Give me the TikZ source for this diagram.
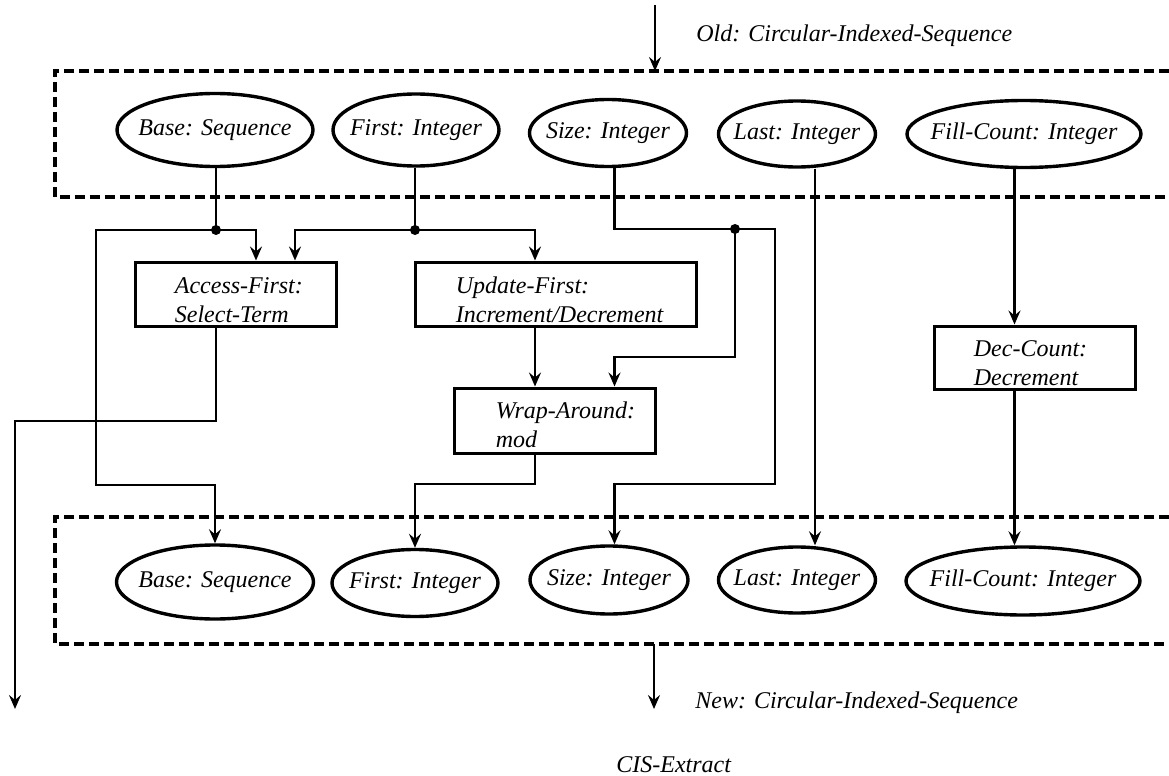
\documentclass[tikz,border=0pt]{standalone}
\usepackage{fontspec}
\setmainfont{Liberation Serif}
\usetikzlibrary{arrows.meta,shapes.geometric,calc}
\tikzset{
  wire/.style={line width=1.35pt},
  flow/.style={line width=1.35pt, -{Stealth[length=7pt,width=6pt,inset=2.5pt]}},
  val-ellipse/.style={
    ellipse,
    draw=black,
    line width=1.7pt,
    inner xsep=-10pt,
    inner ysep=0pt,
    font=\fontsize{12}{14}\selectfont\itshape
  },
  op-box/.style={
    rectangle,
    draw=black,
    line width=1.5pt,
    minimum width=100.5pt,
    minimum height=32pt,
    inner sep=0pt
  },
  op-text/.style={anchor=base west, inner sep=0pt, font=\fontsize{12}{14.5}\selectfont\itshape},
  io-label/.style={anchor=base west, inner sep=0pt, font=\fontsize{12}{14}\selectfont\itshape},
  junction/.style={circle, fill=black, minimum size=5pt, inner sep=0pt},
  frame-dash/.style={line width=1.6pt, dash pattern=on 5pt off 2.5pt}
}
\newcommand{\optext}[2]{\begin{tabular}[t]{@{}l@{}}#1\\#2\end{tabular}}

\begin{document}
\begin{tikzpicture}[x=0.5pt, y=-0.5pt]
  \useasboundingbox (0,0) rectangle (1169,776);
  % dashed frames (open to the right)
  \draw[frame-dash] (1169,71) -- (55,71) -- (55,197) -- (1169,197);
  \draw[frame-dash] (1169,517) -- (55,517) -- (55,644) -- (1169,644);

  % old record
  \node[val-ellipse, minimum width=98pt, minimum height=36.5pt] (baseOld) at (215,130) {Base: Sequence};
  \node[val-ellipse, minimum width=83pt, minimum height=36pt] (firstOld) at (416,130) {First: Integer};
  \node[val-ellipse, minimum width=78.5pt, minimum height=33.5pt] (sizeOld) at (608,133) {Size: Integer};
  \node[val-ellipse, minimum width=78.5pt, minimum height=33pt] (lastOld) at (797,134) {Last: Integer};
  \node[val-ellipse, minimum width=117pt, minimum height=33.5pt] (fillOld) at (1024,134) {Fill-Count: Integer};

  % new record
  \node[val-ellipse, minimum width=98.5pt, minimum height=37pt] (baseNew) at (215,582) {Base: Sequence};
  \node[val-ellipse, minimum width=83pt, minimum height=33.5pt] (firstNew) at (415,583) {First: Integer};
  \node[val-ellipse, minimum width=79pt, minimum height=34pt] (sizeNew) at (609,580) {Size: Integer};
  \node[val-ellipse, minimum width=78.5pt, minimum height=33pt] (lastNew) at (797,580) {Last: Integer};
  \node[val-ellipse, minimum width=117pt, minimum height=34pt] (fillNew) at (1023,581) {Fill-Count: Integer};

  % operations
  \node[op-box] (access) at (235.5,294) {};
  \node[op-box, minimum width=140.5pt] (update) at (555.5,294) {};
  \node[op-box, minimum height=32.5pt] (wrap) at (554.5,420.5) {};
  \node[op-box, minimum height=31.5pt] (dec) at (1034.5,357.5) {};
  \node[op-text] (accessTxt) at ($(access.north west)+(41,32.5)$) {\optext{Access-First:}{Select-Term}};
  \node[op-text] (updateTxt) at ($(update.north west)+(42,32.5)$) {\optext{Update-First:}{Increment/Decrement}};
  \node[op-text] (wrapTxt) at ($(wrap.north west)+(43,32)$) {\optext{Wrap-Around:}{mod}};
  \node[op-text] (decTxt) at ($(dec.north west)+(41,32)$) {\optext{Dec-Count:}{Decrement}};

  % junctions, columns and bends
  \node[junction] (jBase) at (216,230) {};
  \node[junction] (jFirst) at (415,230) {};
  \node[junction] (jSize) at (735,229) {};
  \coordinate (colSize) at (614.5,0);
  \coordinate (colUpd) at (535,0);
  \coordinate (colLast) at (815,0);
  \coordinate (colFill) at (1014.5,0);
  \coordinate (bendBase) at (96,485);
  \coordinate (bendSizeR) at (775,484);
  \coordinate (bendWrap) at (735,357);
  \coordinate (bendFirst) at (415,484);
  \coordinate (bendOut) at (15,421);
  \coordinate (extOut) at (15,709);
  \coordinate (oldIn) at (655,5);
  \coordinate (oldTip) at (655,71);
  \coordinate (newOut) at (654,644);
  \coordinate (newTip) at (654,709);

  % base and first
  \draw[wire] (baseOld.south -| jBase) -- (jBase.center);
  \draw[flow] (jBase.center) -| ([xshift=10.25pt]access.north);
  \draw[flow] (jBase.center) -| (bendBase) -| (baseNew.north);
  \draw[wire] (firstOld.south -| jFirst) -- (jFirst.center);
  \draw[flow] (jFirst.center) -| ([xshift=29.75pt]access.north);
  \draw[flow] (jFirst.center) -| (update.north -| colUpd);
  \draw[flow] (update.south -| colUpd) -- (wrap.north -| colUpd);
  \draw[flow] (wrap.south -| colUpd) |- (bendFirst) -- (firstNew.north);
  \draw[flow] (access.south -| jBase) |- (bendOut) -- (extOut);

  % size
  \draw[wire] (sizeOld.south -| colSize) |- (jSize.center);
  \draw[flow] (jSize.center) -| (bendSizeR) -| (sizeNew.north -| colSize);
  \draw[flow] (jSize.center) -- (bendWrap) -| (wrap.north -| colSize);

  % last and fill-count
  \draw[flow] (lastOld.south -| colLast) -- (lastNew.north -| colLast);
  \draw[flow] (fillOld.south -| colFill) -- (dec.north -| colFill);
  \draw[flow] (dec.south -| colFill) -- (fillNew.north -| colFill);

  % in and out
  \draw[flow] (oldIn) -- (oldTip);
  \draw[flow] (newOut) -- (newTip);
  \node[io-label] (oldLbl) at (696,41) {Old: Circular-Indexed-Sequence};
  \node[io-label] (newLbl) at (695,708) {New: Circular-Indexed-Sequence};
  \node[io-label] (cisLbl) at (616,772) {CIS-Extract};
\end{tikzpicture}
\end{document}
